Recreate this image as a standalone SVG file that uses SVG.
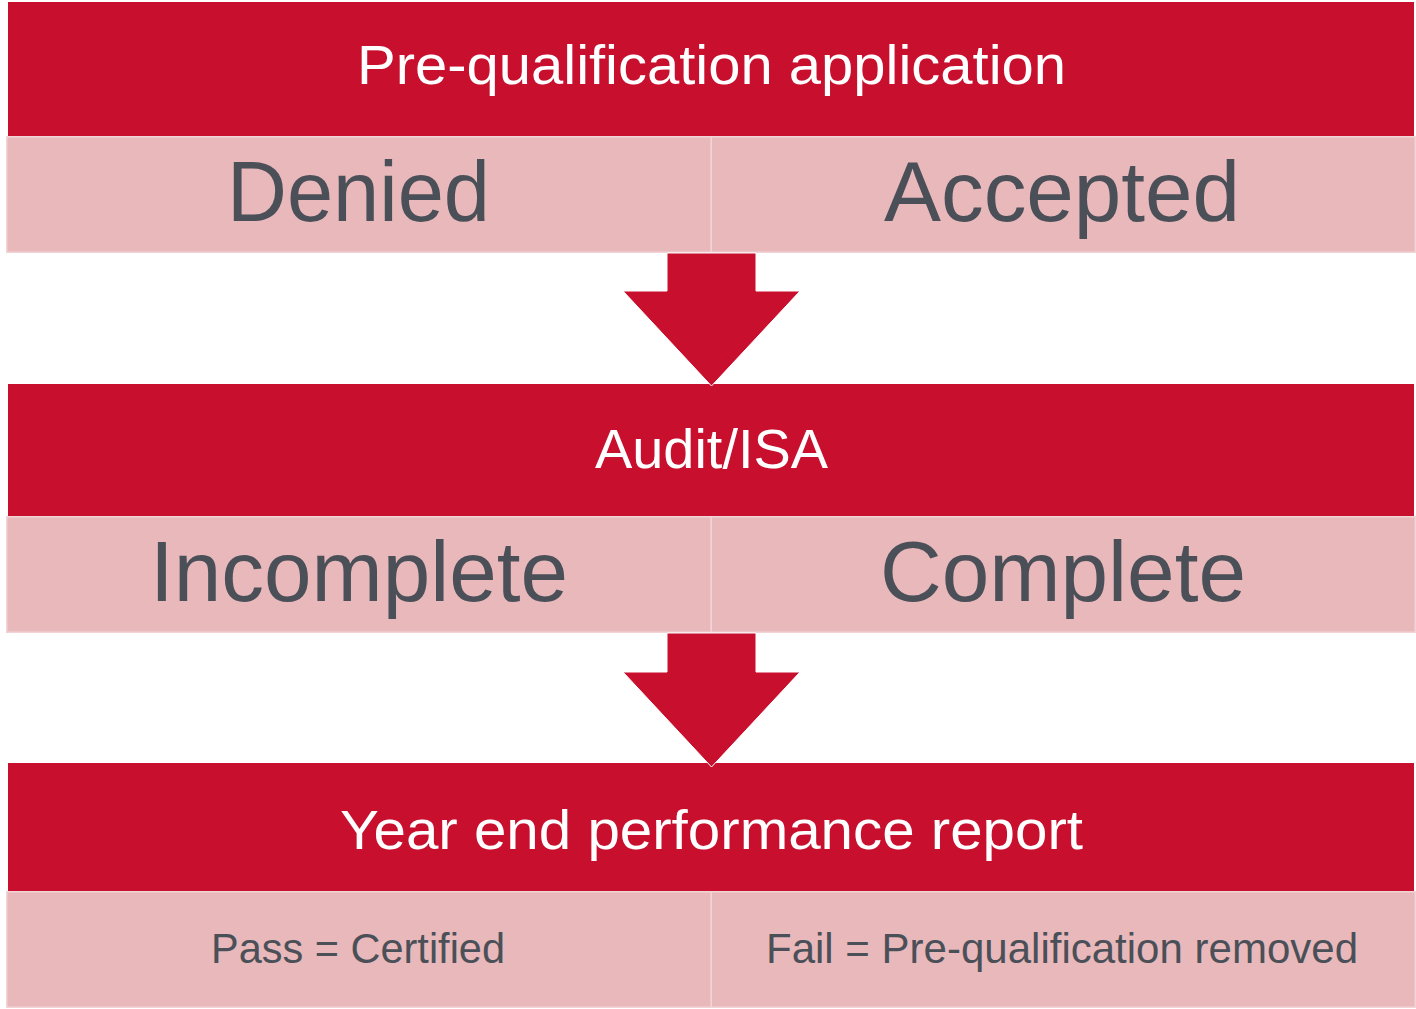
<svg xmlns="http://www.w3.org/2000/svg" width="1416" height="1009" viewBox="0 0 1416 1009">
  <style>
    .bar { fill: #C8102E; }
    .cell { fill: #E8B8BB; stroke: #F2D4D6; stroke-width: 1.5; }
    .arrow { fill: #C8102E; stroke: #FFFFFF; stroke-width: 1; }
    .hd { font-family: "Liberation Sans", Arial, sans-serif; fill: #FFFFFF; font-size: 56px; text-anchor: middle; }
    .big { font-family: "Liberation Sans", Arial, sans-serif; fill: #4B5058; font-size: 86px; text-anchor: middle; }
    .sm { font-family: "Liberation Sans", Arial, sans-serif; fill: #4B5058; font-size: 42px; text-anchor: middle; }
  </style>
  <rect width="1416" height="1009" fill="#FFFFFF"/>

  <g id="prequal">
    <rect class="bar" x="8" y="2" width="1406" height="134"/>
    <text class="hd" x="711.5" y="84" textLength="709" lengthAdjust="spacingAndGlyphs">Pre-qualification  application</text>
  </g>
  <g id="denied">
    <rect class="cell" x="6.75" y="136.75" width="704.5" height="115.5"/>
    <text class="big" x="358.5" y="221" textLength="263" lengthAdjust="spacingAndGlyphs">Denied</text>
  </g>
  <g id="accepted">
    <rect class="cell" x="711.25" y="136.75" width="704" height="115.5"/>
    <text class="big" x="1062" y="221" textLength="356" lengthAdjust="spacingAndGlyphs">Accepted</text>
  </g>

  <g id="audit">
    <rect class="bar" x="8" y="384" width="1406" height="132"/>
    <text class="hd" x="711.5" y="468" textLength="233" lengthAdjust="spacingAndGlyphs">Audit/ISA</text>
  </g>
  <g id="incomplete">
    <rect class="cell" x="6.75" y="516.75" width="704.5" height="115.5"/>
    <text class="big" x="359" y="601" textLength="418" lengthAdjust="spacingAndGlyphs">Incomplete</text>
  </g>
  <g id="complete">
    <rect class="cell" x="711.25" y="516.75" width="704" height="115.5"/>
    <text class="big" x="1063" y="601" textLength="366" lengthAdjust="spacingAndGlyphs">Complete</text>
  </g>

  <g id="report">
    <rect class="bar" x="8" y="763" width="1406" height="128"/>
    <text class="hd" x="711.5" y="849" textLength="743" lengthAdjust="spacingAndGlyphs">Year end performance report</text>
  </g>
  <g id="pass">
    <rect class="cell" x="6.75" y="891.75" width="704.5" height="115.5"/>
    <text class="sm" x="358" y="963" textLength="294" lengthAdjust="spacingAndGlyphs">Pass = Certified</text>
  </g>
  <g id="fail">
    <rect class="cell" x="711.25" y="891.75" width="704" height="115.5"/>
    <text class="sm" x="1062" y="963" textLength="592" lengthAdjust="spacingAndGlyphs">Fail = Pre-qualification removed</text>
  </g>

  <g id="connectors">
    <polygon class="arrow" points="667,253 756,253 756,291 800,291 711.5,386 623,291 667,291"/>
    <polygon class="arrow" points="667,633 756,633 756,672 800,672 711.5,767 623,672 667,672"/>
  </g>
</svg>
